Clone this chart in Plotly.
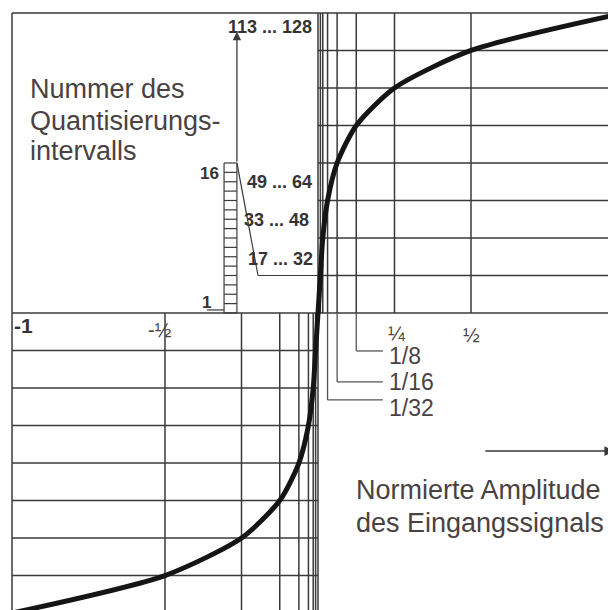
import plotly.graph_objects as go

# A-Kennlinie (13-Segment), positive Hälfte
x_knick = [0, 1/128, 1/64, 1/32, 1/16, 1/8, 1/4, 1/2, 1]
y_stufe = [0, 16, 32, 48, 64, 80, 96, 112, 128]

# Leiter: 16 Intervalle im ersten Segment
leiter_stufen = list(range(0, 65, 4))

bereich_labels = ["113 ... 128", "49 ... 64", "33 ... 48", "17 ... 32"]
x_tick_labels = ["-1", "-½", "¼", "½"]
callout_labels = ["1/8", "1/16", "1/32"]

LINIE = "#3a3a3a"
TEXT = "#4a4242"
FETT = "#383333"

# Kurve symmetrisch
kurve_x = [-v for v in x_knick[::-1]] + x_knick[1:]
kurve_y = [-v for v in y_stufe[::-1]] + y_stufe[1:]

fig = go.Figure()

def linien(segmente, farbe=LINIE, breite=1.5):
    xs, ys = [], []
    for (x0, y0, x1, y1) in segmente:
        xs += [x0, x1, None]
        ys += [y0, y1, None]
    fig.add_trace(go.Scatter(x=xs, y=ys, mode="lines",
                             line=dict(color=farbe, width=breite),
                             hoverinfo="skip", showlegend=False))

x_rechts = 1.0
segs = []
# Gitter oben rechts
for yv in y_stufe[1:]:
    segs.append((0, yv, x_rechts, yv))
for xv in x_knick[1:-1]:
    segs.append((xv, 0, xv, 128))
# Gitter unten links
for yv in y_stufe[1:]:
    segs.append((-1, -yv, 0, -yv))
for xv in x_knick[1:-1]:
    segs.append((-xv, 0, -xv, -130))
# Achsen und Rahmen
segs.append((-1, 0, x_rechts, 0))
segs.append((0, -130, 0, 128))
segs.append((-1, 128, 0, 128))
segs.append((-1, -130, -1, 128))
linien(segs)

# Leiter
lx0, lx1 = -0.307, -0.265
leiter = [(lx0, yv, lx1, yv) for yv in leiter_stufen]
leiter += [(lx0, 0, lx0, 64), (lx1, 0, lx1, 64), (-0.363, 1.3, lx0, 1.3)]
leiter += [(lx1, 64, -0.196, 16), (-0.196, 16, 0, 16)]
linien(leiter, breite=1.2)

# Callout-Linien
ends = [-16.2, -29.4, -37.1]
callout = []
for xv, ye in zip([1/8, 1/16, 1/32], ends):
    callout += [(xv, 0, xv, ye), (xv, ye, 0.212, ye)]
linien(callout, farbe="#555", breite=1.3)

fig.add_trace(go.Scatter(x=kurve_x, y=kurve_y, mode="lines",
                         line=dict(color="#151515", width=5, shape="spline", smoothing=0.7),
                         hoverinfo="skip", showlegend=False))

ann = []
def txt(t, x, y, size, color=TEXT, xa="left", bold=False):
    if bold:
        t = "<b>" + t + "</b>"
    ann.append(dict(x=x, y=y, text=t, showarrow=False, xanchor=xa,
                    yanchor="middle", xref="x", yref="y",
                    font=dict(size=size, color=color,
                              family="Liberation Sans, Arial, sans-serif")))

txt("Nummer des", -0.948, 95.5, 27)
txt("Quantisierungs-", -0.948, 82, 27)
txt("intervalls", -0.948, 69, 27)
txt("Normierte Amplitude", 0.118, -75.5, 27)
txt("des Eingangssignals", 0.118, -89.6, 27)

txt(bereich_labels[0], -0.157, 122, 18, FETT, "center", True)
txt(bereich_labels[1], -0.239, 56, 18, FETT, "left", True)
txt(bereich_labels[2], -0.248, 39.7, 18, FETT, "left", True)
txt(bereich_labels[3], -0.235, 23, 18, FETT, "left", True)
txt("16", -0.318, 59.7, 17, FETT, "right", True)
txt("1", -0.344, 4.6, 17, FETT, "right", True)

txt(x_tick_labels[0], -1.0, -5.5, 21, FETT, "left", True)
txt(x_tick_labels[1], -0.516, -7.3, 20, TEXT, "center")
txt(x_tick_labels[2], 0.258, -8.5, 20, TEXT, "center")
txt(x_tick_labels[3], 0.5, -9.4, 20, TEXT, "center")

for lab, yv in zip(callout_labels, [-18.3, -29.4, -40.5]):
    txt(lab, 0.226, yv, 23)

# Pfeile
ann.append(dict(x=lx1, y=120, ax=lx1, ay=64, xref="x", yref="y",
                axref="x", ayref="y", showarrow=True, arrowhead=2,
                arrowsize=1.3, arrowwidth=1.3, arrowcolor=LINIE, text=""))
ann.append(dict(x=0.968, y=-58.9, ax=0.542, ay=-58.9, xref="x", yref="y",
                axref="x", ayref="y", showarrow=True, arrowhead=2,
                arrowsize=1.3, arrowwidth=1.5, arrowcolor=LINIE, text=""))

# Seite hat 8px Rand: Figur 608x602 ab Seitenpixel 8
fig.update_layout(
    width=608, height=602,
    margin=dict(l=0, r=0, t=0, b=0),
    paper_bgcolor="white", plot_bgcolor="white",
    annotations=ann,
    xaxis=dict(range=[(8-318)/306, 298/306], visible=False, fixedrange=True),
    yaxis=dict(range=[(313-610)/2.344, (313-8)/2.344], visible=False, fixedrange=True),
)

fig.write_html("out.html")
